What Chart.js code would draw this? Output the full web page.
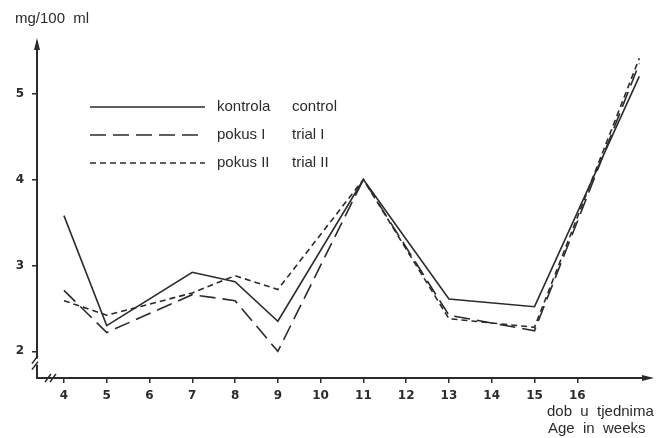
<!DOCTYPE html>
<html>
<head>
<meta charset="utf-8">
<script src="https://cdn.jsdelivr.net/npm/chart.js@4/dist/chart.umd.min.js"></script>
<style>
html,body{margin:0;padding:0;background:#fff;}
#wrap{position:relative;width:668px;height:438px;}
</style>
</head>
<body>
<div id="wrap"><canvas id="c" width="668" height="438"></canvas></div>
<script>
// Data (weeks of age vs mg/100 ml)
const weeks      = [4, 5, 7, 8, 9, 11, 13, 15, 17.45];
const control    = [3.58, 2.30, 2.92, 2.81, 2.35, 4.00, 2.61, 2.52, 5.20];
const trial1     = [2.71, 2.22, 2.66, 2.59, 2.00, 4.00, 2.42, 2.24, 5.35];
const trial2     = [2.59, 2.42, 2.68, 2.88, 2.72, 4.00, 2.38, 2.28, 5.41];
const xTicks     = [4, 5, 6, 7, 8, 9, 10, 11, 12, 13, 14, 15, 16];
const yTicks     = [2, 3, 4, 5];
const legendHr   = ['kontrola', 'pokus I', 'pokus II'];
const legendEn   = ['control', 'trial I', 'trial II'];

const INK = '#2b2b2b';
const pts = arr => weeks.map((w, i) => ({x: w, y: arr[i]}));

const decor = {
  id: 'decor',
  afterDraw(chart) {
    const ctx = chart.ctx, xs = chart.scales.x, ys = chart.scales.y;
    const ax = xs.left, ay = ys.bottom;
    ctx.save();
    ctx.strokeStyle = INK; ctx.fillStyle = INK; ctx.lineWidth = 2;
    // y-axis arrow
    const top = ys.top;
    ctx.beginPath(); ctx.moveTo(ax, top - 4); ctx.lineTo(ax - 3, top + 8); ctx.lineTo(ax + 3, top + 8); ctx.closePath(); ctx.fill();
    // x-axis arrow
    const right = xs.right;
    ctx.beginPath(); ctx.moveTo(right + 4, ay); ctx.lineTo(right - 8, ay - 3); ctx.lineTo(right - 8, ay + 3); ctx.closePath(); ctx.fill();
    // break on y axis
    const by = ys.getPixelForValue(1.88);
    ctx.fillStyle = '#fff'; ctx.fillRect(ax - 3, by - 3, 6, 6);
    ctx.lineWidth = 1.5;
    ctx.beginPath(); ctx.moveTo(ax - 5, by + 2); ctx.lineTo(ax + 1, by - 6); ctx.stroke();
    ctx.beginPath(); ctx.moveTo(ax - 5, by + 8); ctx.lineTo(ax + 1, by); ctx.stroke();
    // break on x axis
    const bx = xs.getPixelForValue(3.65);
    ctx.beginPath(); ctx.moveTo(bx - 4, ay + 4); ctx.lineTo(bx + 2, ay - 4); ctx.stroke();
    ctx.beginPath(); ctx.moveTo(bx + 1, ay + 4); ctx.lineTo(bx + 7, ay - 4); ctx.stroke();
    // legend
    const rows = [107, 135, 163];
    const dashes = [[], [16, 7], [6, 4]];
    ctx.font = '15px "Liberation Sans", Arial, sans-serif';
    ctx.textBaseline = 'middle'; ctx.fillStyle = INK;
    rows.forEach((y, i) => {
      ctx.lineWidth = 1.6; ctx.setLineDash(dashes[i]);
      ctx.beginPath(); ctx.moveTo(90, y); ctx.lineTo(205, y); ctx.stroke();
      ctx.setLineDash([]);
      ctx.fillText(legendHr[i], 217, y);
      ctx.fillText(legendEn[i], 292, y);
    });
    // axis titles
    ctx.textBaseline = 'alphabetic';
    ctx.fillText('mg/100  ml', 15, 23);
    ctx.fillText('dob  u  tjednima', 547, 416);
    ctx.fillText('Age  in  weeks', 548, 433);
    ctx.restore();
  }
};

new Chart(document.getElementById('c'), {
  type: 'line',
  data: {
    datasets: [
      {label: 'kontrola control', data: pts(control), borderColor: INK, borderWidth: 1.6, pointRadius: 0, tension: 0},
      {label: 'pokus I trial I', data: pts(trial1), borderColor: INK, borderWidth: 1.6, borderDash: [16, 7], pointRadius: 0, tension: 0},
      {label: 'pokus II trial II', data: pts(trial2), borderColor: INK, borderWidth: 1.6, borderDash: [6, 4], pointRadius: 0, tension: 0}
    ]
  },
  options: {
    responsive: false,
    animation: false,
    layout: {padding: {top: 42, right: 18, left: 0, bottom: 0}},
    plugins: {legend: {display: false}, tooltip: {enabled: false}},
    scales: {
      x: {
        type: 'linear', min: 3.37, max: 17.7,
        afterBuildTicks: s => { s.ticks = xTicks.map(v => ({value: v})); },
        afterFit: s => { s.height = 60; },
        grid: {drawOnChartArea: false, drawTicks: true, tickLength: 5, color: INK, lineWidth: 1.5},
        border: {display: true, color: INK, width: 2},
        ticks: {color: INK, padding: 6, maxRotation: 0, autoSkip: false,
          font: {family: '"DejaVu Sans", sans-serif', size: 12, weight: 'bold'}}
      },
      y: {
        type: 'linear', min: 1.69, max: 5.6,
        afterBuildTicks: s => { s.ticks = yTicks.map(v => ({value: v})); },
        afterFit: s => { s.width = 37; },
        grid: {drawOnChartArea: false, drawTicks: true, tickLength: 5, color: INK, lineWidth: 1.5},
        border: {display: true, color: INK, width: 2},
        ticks: {color: INK, padding: 8,
          font: {family: '"DejaVu Sans", sans-serif', size: 12, weight: 'bold'}}
      }
    }
  },
  plugins: [decor]
});
</script>
</body>
</html>
